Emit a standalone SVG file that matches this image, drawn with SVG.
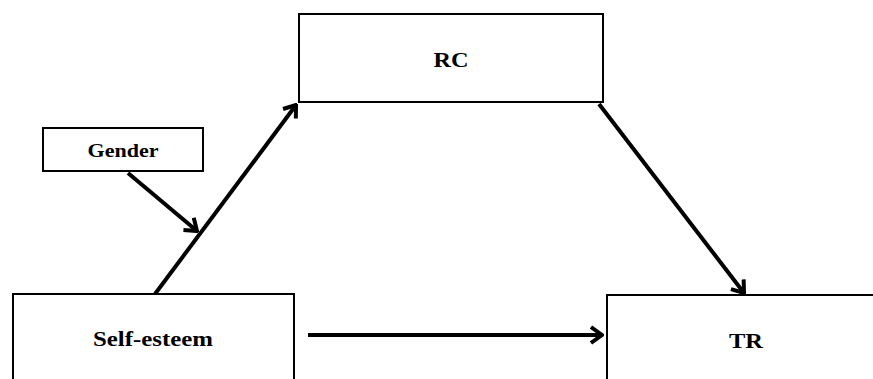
<svg xmlns="http://www.w3.org/2000/svg" width="873" height="379" viewBox="0 0 873 379">
<style>
.box{fill:#fff;stroke:#000;stroke-width:2}
.lbl{font-family:"Liberation Serif","Times New Roman",serif;font-weight:bold;fill:#000;text-anchor:middle}
.arr{stroke:#000;stroke-width:4;fill:none;marker-end:url(#ah)}
</style>
<defs>
<marker id="ah" markerUnits="userSpaceOnUse" viewBox="-12 -10 14 20" markerWidth="14" markerHeight="20" refX="0" refY="0" orient="auto">
<path d="M-11,-8 L0,0 L-11,8" fill="none" stroke="#000" stroke-width="4" stroke-linejoin="miter"/>
</marker>
</defs>
<g id="connectors">
<line class="arr" x1="155" y1="294" x2="296" y2="105"/>
<line class="arr" x1="599" y1="104" x2="744" y2="293"/>
<line class="arr" x1="308" y1="335" x2="602" y2="335"/>
<line class="arr" x1="128" y1="173" x2="197" y2="231"/>
</g>
<g id="rc">
<rect class="box" x="299" y="14" width="304" height="88"/>
<text class="lbl" x="451" y="67" font-size="20" textLength="35" lengthAdjust="spacingAndGlyphs">RC</text>
</g>
<g id="gender">
<rect class="box" x="43" y="128" width="160" height="43"/>
<text class="lbl" x="123" y="157" font-size="18" textLength="71" lengthAdjust="spacingAndGlyphs">Gender</text>
</g>
<g id="selfesteem">
<rect class="box" x="13" y="294" width="281" height="100"/>
<text class="lbl" x="153" y="346" font-size="21" textLength="120" lengthAdjust="spacingAndGlyphs">Self-esteem</text>
</g>
<g id="tr">
<rect class="box" x="607" y="295" width="280" height="100"/>
<text class="lbl" x="746" y="348" font-size="20" textLength="34" lengthAdjust="spacingAndGlyphs">TR</text>
</g>
</svg>
